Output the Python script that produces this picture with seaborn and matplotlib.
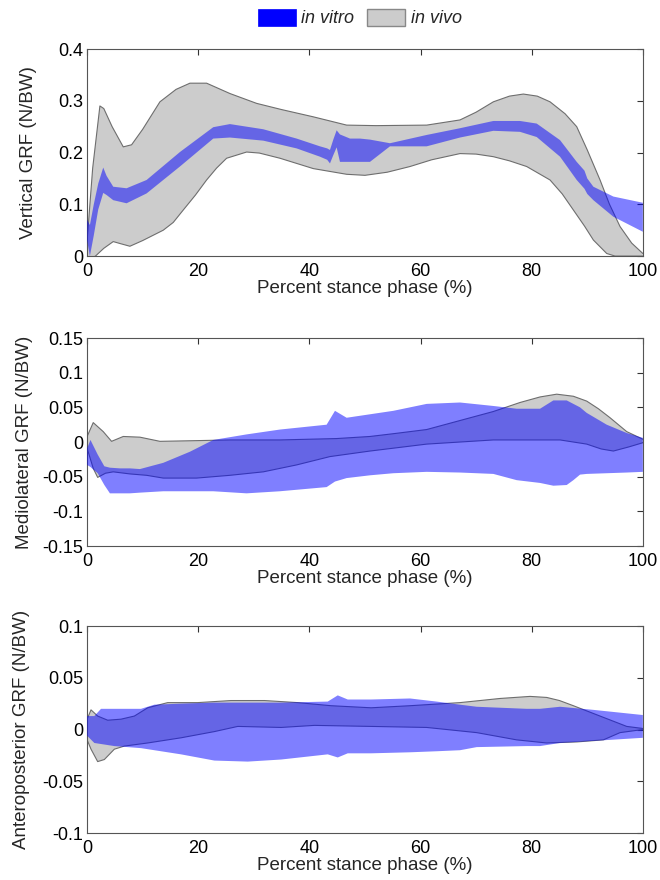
import numpy as np
import matplotlib
matplotlib.use("Agg")
import matplotlib.pyplot as plt
from matplotlib.patches import Patch
import seaborn as sns

# ---------------- data ----------------
x_ticks = [0, 20, 40, 60, 80, 100]
x_label = "Percent stance phase (%)"

# Panel 1: vertical GRF
v_vivo_up_x = [0, 1, 2.3, 3, 4.5, 6.5, 8, 10, 13.1, 16, 18.5, 21.5, 25.7, 30.5, 35, 40.7, 46.7, 52,
               61.1, 67.1, 70, 73.1, 76, 78.5, 81, 83.3, 86, 88.1, 90, 92.3, 94, 95.9, 98, 100]
v_vivo_up = [0.03, 0.17, 0.29, 0.285, 0.25, 0.211, 0.215, 0.245, 0.298, 0.322, 0.334, 0.334, 0.314,
             0.295, 0.283, 0.269, 0.253, 0.252, 0.253, 0.263, 0.278, 0.298, 0.309, 0.313, 0.309, 0.298,
             0.275, 0.250, 0.205, 0.147, 0.10, 0.057, 0.025, 0.005]
v_vivo_lo_x = [0, 1.5, 3, 4.7, 6, 7.7, 10, 13.7, 15.5, 17.3, 19.5, 21.5, 23.3, 25.1, 28.7, 31, 34.7,
               40.7, 46.7, 50, 54, 58.1, 62, 67.1, 70, 73.1, 76, 79.1, 83.3, 85.5, 87.5, 89.5, 91.1,
               93.5, 95, 100]
v_vivo_lo = [-0.01, 0.0, 0.015, 0.028, 0.024, 0.019, 0.03, 0.050, 0.065, 0.089, 0.118, 0.147, 0.170,
             0.189, 0.201, 0.199, 0.189, 0.169, 0.158, 0.156, 0.162, 0.173, 0.186, 0.198, 0.197, 0.192,
             0.184, 0.173, 0.147, 0.12, 0.089, 0.058, 0.031, 0.005, 0.0, 0.0]
v_vitro_x = [0, 0.5, 1.2, 2.0, 2.9, 3.5, 4.7, 7.1, 10.7, 16.7, 22.7, 25.7, 31.7, 37.7, 41.9, 43.2,
             43.7, 44.3, 44.9, 45.5, 47.3, 49.1, 50.9, 54.5, 61.1, 67.1, 73.1, 77.9, 80.9, 85.1, 88.1,
             89.5, 90.0, 91.1, 94.7, 100]
v_vitro_up = [0.07, 0.06, 0.10, 0.14, 0.171, 0.155, 0.134, 0.131, 0.147, 0.201, 0.249, 0.255, 0.245,
              0.227, 0.212, 0.208, 0.205, 0.225, 0.243, 0.235, 0.227, 0.227, 0.225, 0.218, 0.234, 0.247,
              0.261, 0.261, 0.256, 0.224, 0.182, 0.165, 0.15, 0.134, 0.115, 0.103]
v_vitro_lo = [0.03, 0.0, 0.04, 0.09, 0.122, 0.118, 0.108, 0.102, 0.121, 0.173, 0.227, 0.229, 0.223,
              0.208, 0.192, 0.186, 0.179, 0.195, 0.21, 0.182, 0.182, 0.182, 0.182, 0.212, 0.212, 0.229,
              0.242, 0.240, 0.230, 0.192, 0.147, 0.13, 0.12, 0.108, 0.076, 0.047]
v_yticks = [0, 0.1, 0.2, 0.3, 0.4]
v_yticklabels = ["0", "0.1", "0.2", "0.3", "0.4"]

# Panel 2: mediolateral GRF
m_vivo_up_x = [0, 1.1, 2.9, 4.4, 6.5, 9.5, 13.1, 19.7, 25.7, 34.7, 44.9, 50.9, 55.1, 61.1, 67.1, 73.1,
               77.9, 81.5, 84.5, 87.5, 89.9, 92, 94.1, 97.1, 100]
m_vivo_up = [0.008, 0.028, 0.015, 0.001, 0.008, 0.007, 0.001, 0.002, 0.003, 0.003, 0.005, 0.008, 0.012,
             0.018, 0.031, 0.044, 0.057, 0.065, 0.069, 0.066, 0.059, 0.048, 0.035, 0.015, 0.004]
m_vivo_lo_x = [0, 1.1, 1.9, 3.3, 4.7, 7.7, 10.7, 13.7, 19.7, 25.7, 31.7, 37.7, 43.7, 50.9, 61.1, 73.1,
               85.1, 89.9, 92.5, 94.7, 97.5, 100]
m_vivo_lo = [-0.009, -0.038, -0.051, -0.045, -0.043, -0.046, -0.048, -0.052, -0.052, -0.048, -0.043,
             -0.033, -0.021, -0.013, -0.003, 0.003, 0.003, -0.003, -0.010, -0.013, -0.007, -0.001]
m_vitro_x = [0, 0.6, 1.9, 3.1, 4.1, 5.9, 7.7, 9.5, 13.7, 18.5, 22.7, 28.7, 34.7, 43.1, 44.6, 46.7,
             50.9, 55.1, 61.1, 67.1, 73.1, 77.3, 81.5, 83.9, 86.3, 87.5, 88.7, 89.9, 93.5, 97.1, 100]
m_vitro_up = [-0.009, 0.003, -0.018, -0.035, -0.037, -0.038, -0.038, -0.039, -0.030, -0.014, 0.003,
              0.011, 0.018, 0.025, 0.045, 0.035, 0.040, 0.045, 0.055, 0.057, 0.052, 0.048, 0.048, 0.060,
              0.060, 0.055, 0.050, 0.042, 0.025, 0.013, 0.006]
m_vitro_lo = [-0.033, -0.036, -0.045, -0.062, -0.074, -0.074, -0.074, -0.073, -0.071, -0.071, -0.071,
              -0.074, -0.071, -0.065, -0.057, -0.052, -0.048, -0.045, -0.043, -0.044, -0.046, -0.055,
              -0.059, -0.063, -0.062, -0.055, -0.047, -0.046, -0.045, -0.044, -0.043]
m_yticks = [-0.15, -0.1, -0.05, 0, 0.05, 0.1, 0.15]
m_yticklabels = ["-0.15", "-0.1", "-0.05", "0", "0.05", "0.1", "0.15"]

# Panel 3: anteroposterior GRF
a_vivo_up_x = [0, 0.7, 1.9, 3.7, 6.1, 8.5, 10.9, 14.5, 19.9, 25.9, 31.9, 37.9, 43.9, 51.1, 58.1, 67.1,
               74.3, 79.7, 82.7, 85, 87.5, 92.3, 97.1, 100]
a_vivo_up = [0.010, 0.019, 0.013, 0.009, 0.010, 0.013, 0.021, 0.026, 0.026, 0.028, 0.028, 0.026, 0.023,
             0.021, 0.023, 0.026, 0.030, 0.032, 0.031, 0.028, 0.023, 0.013, 0.003, 0.001]
a_vivo_lo_x = [0, 0.7, 1.9, 3.1, 4.9, 6.7, 10.9, 16.9, 22.9, 27.1, 34.9, 40.9, 51.1, 61.1, 70.1, 77.3,
               82.7, 88.1, 92.9, 95.9, 100]
a_vivo_lo = [-0.010, -0.019, -0.031, -0.029, -0.019, -0.016, -0.013, -0.008, -0.002, 0.003, 0.002,
             0.004, 0.003, 0.002, -0.003, -0.010, -0.013, -0.012, -0.010, -0.003, 0.0]
a_vitro_x = [0, 1.3, 2.5, 4.9, 9.7, 10.9, 12.1, 16.9, 22.9, 28.9, 34.9, 43.3, 45.1, 46.9, 51.1, 58.1,
             62.9, 67.1, 70.1, 79.1, 81.5, 85.1, 91.1, 100]
a_vitro_up = [0.013, 0.013, 0.020, 0.020, 0.020, 0.022, 0.024, 0.025, 0.026, 0.026, 0.026, 0.027, 0.033,
              0.029, 0.029, 0.030, 0.027, 0.024, 0.022, 0.020, 0.020, 0.022, 0.019, 0.014]
a_vitro_lo = [-0.006, -0.013, -0.014, -0.016, -0.018, -0.019, -0.020, -0.024, -0.030, -0.031, -0.029,
              -0.024, -0.027, -0.023, -0.023, -0.022, -0.021, -0.020, -0.017, -0.016, -0.016, -0.013,
              -0.011, -0.008]
a_yticks = [-0.1, -0.05, 0, 0.05, 0.1]
a_yticklabels = ["-0.1", "-0.05", "0", "0.05", "0.1"]

legend_labels = ["in vitro", "in vivo"]

# ---------------- style ----------------
sns.set_theme(style="white")
plt.rcParams["font.family"] = ["Liberation Sans", "DejaVu Sans"]

VIVO_FILL = "#cccccc"
VIVO_EDGE = "#6e6e6e"
VITRO = (0.0, 0.0, 1.0)
TICK_FS = 13
LABEL_FS = 13.5

fig = plt.figure(figsize=(6.6, 8.8), dpi=100)
positions = [
    [0.132, 0.709, 0.842, 0.2353],
    [0.132, 0.3795, 0.842, 0.2364],
    [0.132, 0.0534, 0.842, 0.2352],
]
ylabel_x = [-0.090, -0.097, -0.1025]

panels = [
    dict(vux=v_vivo_up_x, vu=v_vivo_up, vlx=v_vivo_lo_x, vl=v_vivo_lo,
         tx=v_vitro_x, tu=v_vitro_up, tl=v_vitro_lo, yt=v_yticks, ytl=v_yticklabels,
         ylim=(0, 0.4), ylabel="Vertical GRF (N/BW)"),
    dict(vux=m_vivo_up_x, vu=m_vivo_up, vlx=m_vivo_lo_x, vl=m_vivo_lo,
         tx=m_vitro_x, tu=m_vitro_up, tl=m_vitro_lo, yt=m_yticks, ytl=m_yticklabels,
         ylim=(-0.15, 0.15), ylabel="Mediolateral GRF (N/BW)"),
    dict(vux=a_vivo_up_x, vu=a_vivo_up, vlx=a_vivo_lo_x, vl=a_vivo_lo,
         tx=a_vitro_x, tu=a_vitro_up, tl=a_vitro_lo, yt=a_yticks, ytl=a_yticklabels,
         ylim=(-0.1, 0.1), ylabel="Anteroposterior GRF (N/BW)"),
]

for pos, lx, p in zip(positions, ylabel_x, panels):
    ax = fig.add_axes(pos)
    # in vivo band (grey, outlined)
    poly_x = np.r_[p["vux"], p["vlx"][::-1]]
    poly_y = np.r_[p["vu"], p["vl"][::-1]]
    ax.fill(poly_x, poly_y, facecolor=VIVO_FILL, edgecolor="none", zorder=1)
    sns.lineplot(x=p["vux"], y=p["vu"], ax=ax, color=VIVO_EDGE, lw=0.8, zorder=2, sort=False)
    sns.lineplot(x=p["vlx"], y=p["vl"], ax=ax, color=VIVO_EDGE, lw=0.8, zorder=2, sort=False)
    # in vitro band (blue, translucent)
    ax.fill_between(p["tx"], p["tl"], p["tu"], facecolor=VITRO, alpha=0.5,
                    edgecolor="none", zorder=3)

    ax.set_xlim(0, 100)
    ax.set_ylim(*p["ylim"])
    ax.set_xticks(x_ticks)
    ax.set_xticklabels([str(t) for t in x_ticks])
    ax.set_yticks(p["yt"])
    ax.set_yticklabels(p["ytl"])
    ax.set_xlabel(x_label, fontsize=LABEL_FS, labelpad=0)
    ax.set_ylabel(p["ylabel"], fontsize=LABEL_FS)
    ax.yaxis.set_label_coords(lx, 0.5)
    ax.tick_params(direction="in", length=4, width=0.8, top=True, right=True,
                   labelsize=TICK_FS, colors="#333333", labelcolor="black", pad=3)
    ax.tick_params(axis="x", pad=5)
    for s in ax.spines.values():
        s.set_visible(True)
        s.set_color("#555555")
        s.set_linewidth(0.8)
    ax.grid(False)

handles = [Patch(facecolor=VITRO, edgecolor=VITRO, lw=0.5),
           Patch(facecolor=VIVO_FILL, edgecolor="#888888", lw=1.0)]
leg = fig.legend(handles, legend_labels, loc="center", bbox_to_anchor=(0.545, 0.9795),
                 ncol=2, frameon=False, fontsize=TICK_FS, handlelength=2.1, handleheight=1.1,
                 handletextpad=0.3, columnspacing=0.75, borderaxespad=0, borderpad=0)
for t in leg.get_texts():
    t.set_fontstyle("italic")

fig.savefig("out.png", dpi=100)
